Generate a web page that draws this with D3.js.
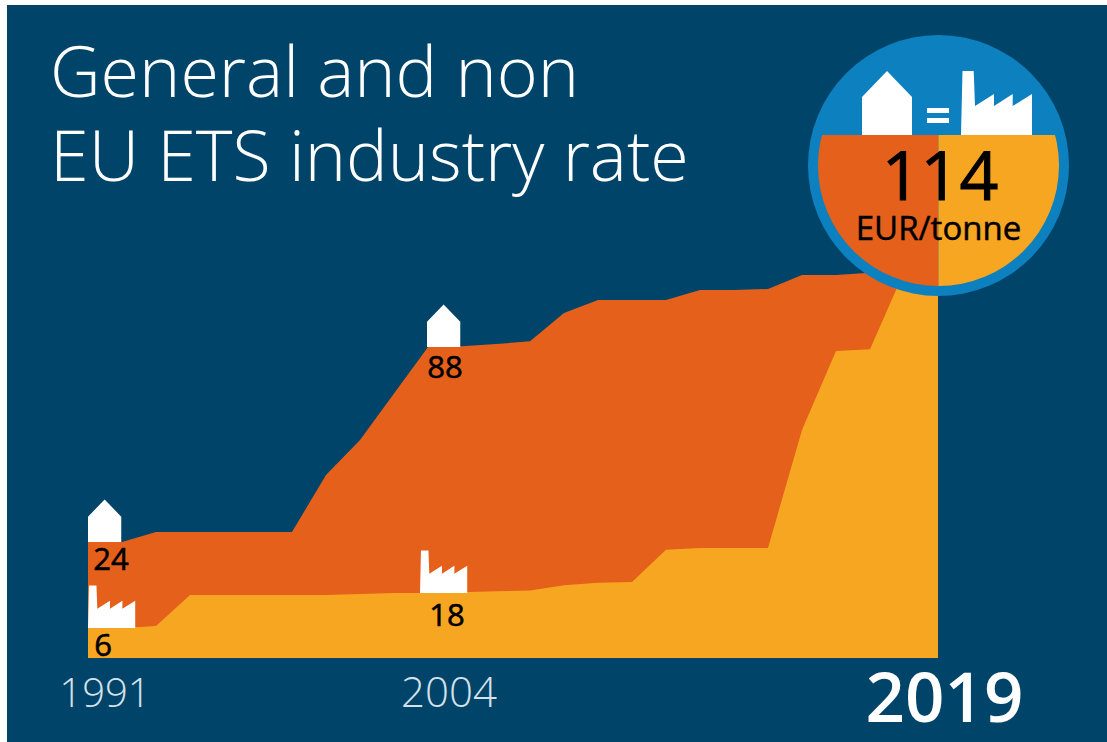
<!DOCTYPE html>
<html><head><meta charset="utf-8">
<script src="https://cdn.jsdelivr.net/npm/d3@7/dist/d3.min.js"></script>
<style>html,body{margin:0;padding:0;background:#fff}svg{display:block}text{font-family:"Open Sans",sans-serif}</style>
</head><body><svg id="c" width="1107" height="742"></svg>
<script>
// Evenly spaced steps of the source chart, 0..25
const steps = [0,1,2,3,4,5,6,7,8,9,10,11,12,13,14,15,16,17,18,19,20,21,22,23,24,25];
const generalRate = [24,24,27.3,27.3,27.3,27.3,27.3,46,57.5,72.7,88,88.3,89,90,99.8,104.3,104.3,104.3,107.8,107.8,108.1,113,113,113.7,114,114];
const industryRate = [6,6,6.7,17.3,17.3,17.3,17.3,17.3,17.7,18,18,18.1,18.2,18.3,18.9,19.2,19.3,23.1,23.3,23.3,23.3,60.8,86.7,87.3,114,114];
const tickSteps = [0,10,25];
const tickLabels = ["1991","2004","2019"];
const titleLines = ["General and non","EU ETS industry rate"];
const callouts = [
  {icon:"house", step:0, value:24, label:"24"},
  {icon:"factory", step:0, value:6, label:"6"},
  {icon:"house", step:10, value:88, label:"88"},
  {icon:"factory", step:10, value:18, label:"18"}
];
const NAVY="#00446A", RED="#E5601A", AMBER="#F7A621", BLUE="#0D80BF";

const svg=d3.select("#c");
svg.append("rect").attr("x",7).attr("y",5).attr("width",1100).attr("height",737).attr("fill",NAVY);

const x=d3.scaleLinear().domain([0,25]).range([88,938]);
const y=d3.scaleLinear().domain([0,6,18,24,88,114]).range([658,628,593,542,347,272]);

const area=vals=>d3.area().x((d,i)=>x(steps[i])).y0(y(0)).y1(d=>y(d))(vals);
svg.append("path").attr("d",area(generalRate)).attr("fill",RED);
svg.append("path").attr("d",area(industryRate)).attr("fill",AMBER);

// Title
svg.selectAll("text.title").data(titleLines).join("text").attr("class","title")
  .attr("x",50).attr("y",(d,i)=>97+i*84).attr("font-size",70).attr("font-weight",300).attr("fill","#fff").text(d=>d);

// Icons: drawn in a 50x64 / 71x64 box
const housePath="M0,64V26L25,0L50,26V64Z";
const factoryPath="M0,64L1.5,0H12.7L14,35L33,23V35L51.7,23V35L71,23V64Z";
const iconScale=0.665;
callouts.forEach(c=>{
  const px=x(c.step)-(c.step===10&&c.icon==="house"?1:0)-(c.step===10&&c.icon==="factory"?8:0), py=y(c.value);
  svg.append("path").attr("d",c.icon==="house"?housePath:factoryPath).attr("fill","#fff")
    .attr("transform",`translate(${px},${py-64*iconScale}) scale(${iconScale})`);
});

// Value labels
const labelAttrs={ "24":[111,570], "6":[103,656], "88":[445,378], "18":[447,626] };
svg.selectAll("text.val").data(callouts).join("text").attr("class","val")
  .attr("x",d=>labelAttrs[d.label][0]).attr("y",d=>labelAttrs[d.label][1])
  .attr("text-anchor","middle").attr("font-size",31).attr("font-weight",400)
  .attr("stroke","#000").attr("stroke-width",0.6).attr("fill","#000").text(d=>d.label);

// Axis labels
const axisG=svg.append("g");
axisG.selectAll("text").data(tickSteps).join("text")
  .attr("x",(d,i)=>[105,449,944.5][i]).attr("y",(d,i)=>[707,707,722][i])
  .attr("text-anchor","middle")
  .attr("font-size",(d,i)=>[40,42,69][i]).attr("font-weight",(d,i)=>i===2?600:300)
  .attr("fill",(d,i)=>i===2?"#fff":"#D5E2EA")
  .text((d,i)=>tickLabels[i]);

// Badge
const cx=938.5, cy=165.5, R=130.5, r=120.5, split=135;
svg.append("circle").attr("cx",cx).attr("cy",cy).attr("r",R).attr("fill",BLUE);
const defs=svg.append("defs");
defs.append("clipPath").attr("id","lower").append("circle").attr("cx",cx).attr("cy",cy).attr("r",r);
const lower=svg.append("g").attr("clip-path","url(#lower)");
lower.append("rect").attr("x",cx-R).attr("y",split).attr("width",R).attr("height",2*R).attr("fill",RED);
lower.append("rect").attr("x",cx).attr("y",split).attr("width",R).attr("height",2*R).attr("fill",AMBER);
svg.append("path").attr("d",housePath).attr("fill","#fff").attr("transform",`translate(862,${split-64})`);
svg.append("path").attr("d",factoryPath).attr("fill","#fff").attr("transform",`translate(961,${split-64})`);
svg.append("rect").attr("x",927).attr("y",108).attr("width",22).attr("height",5).attr("fill","#fff");
svg.append("rect").attr("x",927).attr("y",118).attr("width",22).attr("height",5).attr("fill","#fff");
svg.append("text").attr("x",940).attr("y",200).attr("text-anchor","middle").attr("font-size",68).attr("font-weight",400).attr("stroke","#000").attr("stroke-width",1).attr("fill","#000").text("114");
svg.append("text").attr("x",938.5).attr("y",240).attr("text-anchor","middle").attr("font-size",33).attr("font-weight",400).attr("stroke","#000").attr("stroke-width",0.5).attr("fill","#000").text("EUR/tonne");
</script></body></html>
